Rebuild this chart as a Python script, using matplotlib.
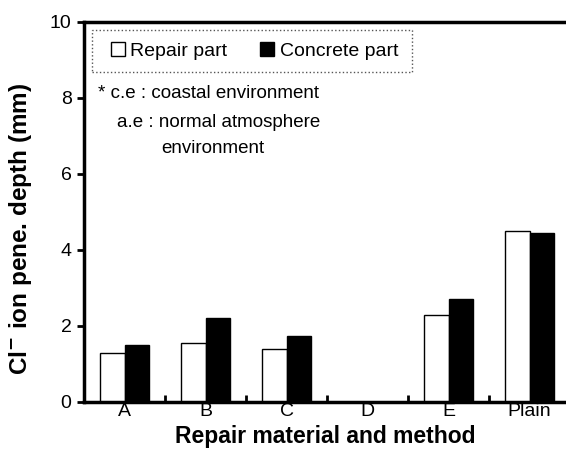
import matplotlib.pyplot as plt
import numpy as np
from matplotlib.lines import Line2D
from matplotlib.patches import Rectangle

plt.rcParams['font.family'] = ['Liberation Sans', 'DejaVu Sans']

categories = ['A', 'B', 'C', 'D', 'E', 'Plain']
repair_part = [1.3, 1.55, 1.4, 0.0, 2.3, 4.5]
concrete_part = [1.5, 2.2, 1.75, 0.0, 2.7, 4.45]

fig = plt.figure(figsize=(5.66, 4.5), dpi=100)
ax = fig.add_axes([84 / 566, 48 / 450, 1 - 84 / 566, 380 / 450])

x = np.arange(len(categories))
w = 0.3
ax.bar(x - w / 2, repair_part, w, color='white', edgecolor='black', linewidth=1)
ax.bar(x + w / 2, concrete_part, w, color='black', edgecolor='black', linewidth=1)

ax.set_xlim(-0.5, 5.45)
ax.set_ylim(0, 10)
ax.set_yticks(np.arange(0, 11, 2))
ax.set_xticks(x)
ax.set_xticklabels(categories, fontsize=14)
ax.set_xticks(np.arange(0.5, 5.5, 1), minor=True)
ax.tick_params(axis='x', which='major', length=0, pad=1)
ax.tick_params(axis='x', which='minor', direction='in', length=5, width=2)
ax.tick_params(axis='y', direction='out', length=5, width=2, labelsize=14, pad=4)

for s in ['left', 'bottom', 'top']:
    ax.spines[s].set_linewidth(2.5)
ax.spines['right'].set_visible(False)

ax.set_xlabel('Repair material and method', fontsize=16.5, fontweight='bold', labelpad=3)
ax.set_ylabel('Cl$^{\\mathbf{-}}$ ion pene. depth (mm)', fontsize=17.5, fontweight='bold')
ax.yaxis.set_label_coords(-0.104, 0.455)

# dotted legend box drawn by hand so the padding matches
ax.add_patch(Rectangle((0.0166, 0.868), 0.664, 0.111, transform=ax.transAxes,
                       facecolor='white', edgecolor='#555555', linestyle=':',
                       linewidth=1, zorder=4))
handles = [
    Line2D([], [], marker='s', linestyle='none', markersize=10,
           markerfacecolor='white', markeredgecolor='black'),
    Line2D([], [], marker='s', linestyle='none', markersize=10,
           markerfacecolor='black', markeredgecolor='black'),
]
leg = ax.legend(handles, ['Repair part', 'Concrete part'], ncol=2, loc='center left',
                bbox_to_anchor=(0.05, 0.924), borderaxespad=0, borderpad=0, fontsize=14,
                frameon=False, handlelength=1.0, handletextpad=0.15, columnspacing=1.55)
leg.set_zorder(5)

ax.text(0.03, 0.835, '* c.e : coastal environment', transform=ax.transAxes, fontsize=13.5, va='top')
ax.text(0.068, 0.757, 'a.e : normal atmosphere', transform=ax.transAxes, fontsize=13.5, va='top')
ax.text(0.160, 0.69, 'environment', transform=ax.transAxes, fontsize=13.5, va='top')

fig.savefig('out.png', dpi=100)
